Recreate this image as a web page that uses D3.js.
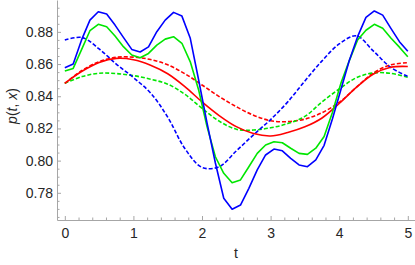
<!DOCTYPE html>
<html>
<head>
<meta charset="utf-8">
<script src="https://cdn.jsdelivr.net/npm/d3@7"></script>
<style>
  body { margin:0; background:#fff; }
  svg { display:block; font-family:"Liberation Sans", Arial, sans-serif; }
</style>
</head>
<body>
<div id="divChart"></div>
<script>
// grille en t des courbes pleines (42 points)
var tFine = [0, 0.122, 0.244, 0.366, 0.488, 0.610, 0.732, 0.854, 0.976, 1.098,
  1.220, 1.341, 1.463, 1.585, 1.707, 1.829, 1.951, 2.073, 2.195, 2.317,
  2.439, 2.561, 2.683, 2.805, 2.927, 3.049, 3.171, 3.293, 3.415, 3.537,
  3.659, 3.780, 3.902, 4.024, 4.146, 4.268, 4.390, 4.512, 4.634, 4.756,
  4.878, 5.0];

var blueSolid = [0.8577, 0.8600, 0.8750, 0.8873, 0.8925, 0.8911, 0.8842, 0.8766, 0.8691, 0.8675,
  0.8707, 0.8801, 0.8873, 0.8921, 0.8898, 0.8760, 0.8501, 0.8234, 0.7985, 0.7766,
  0.7698, 0.7724, 0.7828, 0.7942, 0.8035, 0.8072, 0.8061, 0.8014, 0.7973, 0.7962,
  0.8004, 0.8095, 0.8260, 0.8440, 0.8620, 0.8770, 0.8890, 0.8930, 0.8904, 0.8820,
  0.8739, 0.8680];

var greenSolid = [0.8557, 0.8573, 0.8690, 0.8807, 0.8847, 0.8832, 0.8774, 0.8708, 0.8656, 0.8639,
  0.8666, 0.8718, 0.8755, 0.8770, 0.8729, 0.8614, 0.8439, 0.8211, 0.8024, 0.7921,
  0.7863, 0.7880, 0.7962, 0.8045, 0.8097, 0.8117, 0.8111, 0.8077, 0.8045, 0.8039,
  0.8077, 0.8150, 0.8300, 0.8480, 0.8620, 0.8750, 0.8810, 0.8847, 0.8822, 0.8760,
  0.8705, 0.8645];

// grille plus large pour les courbes lisses
var tCoarse = [0, 0.25, 0.5, 0.75, 1.0, 1.25, 1.5, 1.75, 2.0, 2.25, 2.5,
  2.75, 3.0, 3.25, 3.5, 3.75, 4.0, 4.25, 4.5, 4.75, 5.0];

var redSolid = [0.8480, 0.8555, 0.8610, 0.8635, 0.8627, 0.8593, 0.8540, 0.8460, 0.8365, 0.8280, 0.8211,
  0.8168, 0.8153, 0.8175, 0.8210, 0.8265, 0.8355, 0.8455, 0.8538, 0.8580, 0.8585];
var redDashed = [0.8480, 0.8560, 0.8615, 0.8642, 0.8643, 0.8628, 0.8595, 0.8540, 0.8470, 0.8398, 0.8335,
  0.8282, 0.8248, 0.8242, 0.8258, 0.8298, 0.8362, 0.8455, 0.8545, 0.8595, 0.8608];
var greenDashed = [0.8480, 0.8522, 0.8543, 0.8541, 0.8528, 0.8506, 0.8475, 0.8412, 0.8325, 0.8245, 0.8195,
  0.8190, 0.8204, 0.8230, 0.8275, 0.8365, 0.8445, 0.8515, 0.8545, 0.8542, 0.8518];
var blueDashed = [0.8749, 0.8765, 0.8694, 0.8600, 0.8516, 0.8420, 0.8270, 0.8075, 0.7958, 0.7962, 0.8060,
  0.8160, 0.8255, 0.8365, 0.8495, 0.8620, 0.8725, 0.8775, 0.8680, 0.8580, 0.8523];

var xTicks = [0, 1, 2, 3, 4, 5];
var yTicks = [0.78, 0.80, 0.82, 0.84, 0.86, 0.88];

var series = [
  {t: tCoarse, v: redDashed, color: '#ff0000', dash: '4,2', smooth: true},
  {t: tCoarse, v: greenDashed, color: '#00e600', dash: '4,2', smooth: true},
  {t: tCoarse, v: blueDashed, color: '#0000ff', dash: '4,2', smooth: true},
  {t: tCoarse, v: redSolid, color: '#ff0000', dash: null, smooth: true},
  {t: tFine, v: greenSolid, color: '#00e600', dash: null, smooth: false},
  {t: tFine, v: blueSolid, color: '#0000ff', dash: null, smooth: false}
];

var width = 415, height = 265;
var margin = {left: 57, right: 0, top: 0, bottom: 45};
var axisColor = '#a6a6a6', textColor = '#262626';

var svg = d3.select('#divChart').append('svg')
  .attr('width', width).attr('height', height);

var x = d3.scaleLinear().domain([-0.114, 5.105]).range([margin.left, width - margin.right]);
var y = d3.scaleLinear().domain([0.7631, 0.8998]).range([height - margin.bottom, margin.top]);

svg.append('clipPath').attr('id', 'clip').append('rect')
  .attr('x', margin.left).attr('y', margin.top)
  .attr('width', width - margin.left - margin.right)
  .attr('height', height - margin.top - margin.bottom);

// axes, ticks vers l'interieur
var xAxis = d3.axisBottom(x).tickValues(xTicks).tickFormat(d3.format('d'))
  .tickSizeInner(-4).tickSizeOuter(0).tickPadding(8);
var yAxis = d3.axisLeft(y).tickValues(yTicks).tickFormat(d3.format('.2f'))
  .tickSizeInner(-4).tickSizeOuter(0).tickPadding(4);

var gx = svg.append('g').attr('transform', 'translate(0,' + y.range()[0] + ')').call(xAxis);
var gy = svg.append('g').attr('transform', 'translate(' + margin.left + ',0)').call(yAxis);

// petites graduations
var xMinor = d3.range(0, 51, 2).map(function(d){ return d / 10; }).filter(function(d){ return xTicks.indexOf(d) < 0; });
var yMinor = d3.range(765, 900, 5).map(function(d){ return d / 1000; }).filter(function(d){ return d % 0.02 > 0.001 && d % 0.02 < 0.019; });
gx.append('g').call(d3.axisBottom(x).tickValues(xMinor).tickFormat('').tickSizeInner(-2.5).tickSizeOuter(0))
  .select('.domain').remove();
gy.append('g').call(d3.axisLeft(y).tickValues(yMinor).tickFormat('').tickSizeInner(-2.5).tickSizeOuter(0))
  .select('.domain').remove();

svg.selectAll('.domain, .tick line').attr('stroke', axisColor);
svg.selectAll('.tick text').attr('fill', textColor).style('font-size', '14px');

// titres des axes
svg.append('text').attr('x', 236).attr('y', 258).attr('text-anchor', 'middle')
  .attr('fill', textColor).style('font-size', '14px').text('t');

var ylab = svg.append('text').attr('transform', 'translate(17,106) rotate(-90)')
  .attr('text-anchor', 'middle').attr('fill', textColor).style('font-size', '14px');
ylab.append('tspan').style('font-style', 'italic').text('p');
ylab.append('tspan').text('(');
ylab.append('tspan').style('font-style', 'italic').text('t');
ylab.append('tspan').text(', ');
ylab.append('tspan').style('font-style', 'italic').text('x');
ylab.append('tspan').text(')');

// courbes
var plot = svg.append('g').attr('clip-path', 'url(#clip)');
series.forEach(function(s){
  var line = d3.line()
    .x(function(d, i){ return x(s.t[i]); })
    .y(function(d){ return y(d); })
    .curve(s.smooth ? d3.curveCatmullRom : d3.curveLinear);
  plot.append('path').datum(s.v)
    .attr('d', line)
    .attr('fill', 'none')
    .attr('stroke', s.color)
    .attr('stroke-width', 1.6)
    .attr('stroke-linejoin', 'round')
    .attr('stroke-dasharray', s.dash);
});
</script>
</body>
</html>
